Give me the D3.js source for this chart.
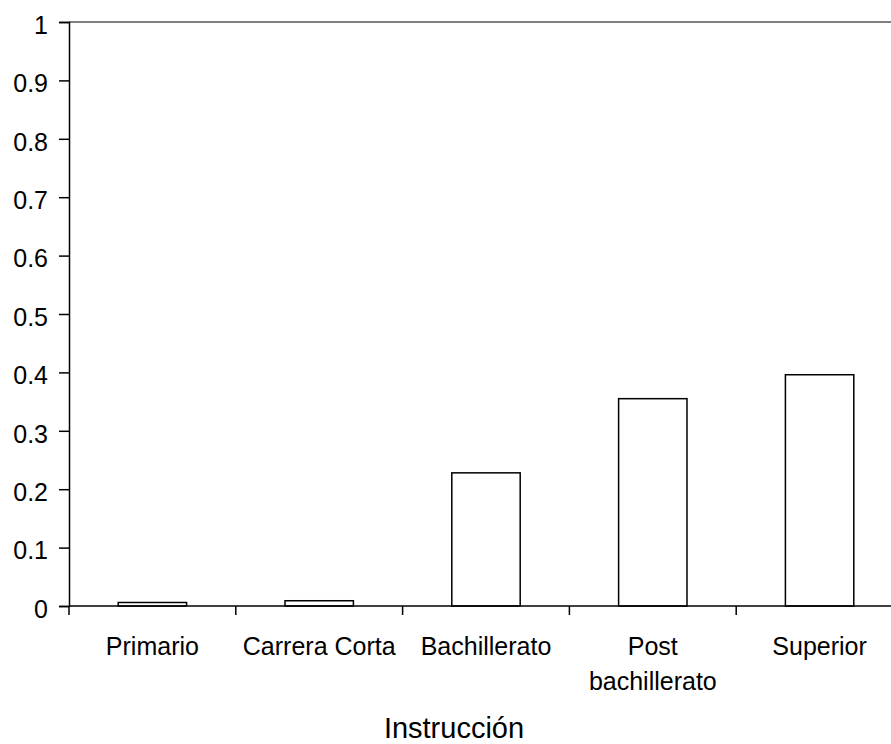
<!DOCTYPE html>
<html>
<head>
<meta charset="utf-8">
<script src="https://cdn.jsdelivr.net/npm/d3@7"></script>
<style>
  body { margin: 0; background: #fff; }
  svg { display: block; }
  svg text { font-family: "Liberation Sans", Arial, sans-serif; }
</style>
</head>
<body>
<div id="chart"></div>
<script>
// Categories and values
var categories = ["Primario", "Carrera Corta", "Bachillerato", "Post bachillerato", "Superior"];
var values = [0.006, 0.009, 0.228, 0.355, 0.396];
var yTicks = [0, 0.1, 0.2, 0.3, 0.4, 0.5, 0.6, 0.7, 0.8, 0.9, 1];
// label lines under each bar
var labelLines = [["Primario"], ["Carrera Corta"], ["Bachillerato"], ["Post", "bachillerato"], ["Superior"]];

var width = 891;
var height = 744;
var marginLeft = 69;
var marginTop = 22;
var plotWidth = 834;   // runs past the right edge, as in the reference
var plotHeight = 584;

var svg = d3.select("#chart").append("svg")
  .attr("width", width)
  .attr("height", height);

var chart = svg.append("g")
  .attr("transform", "translate(" + marginLeft + "," + marginTop + ")");

// Scales
var xScale = d3.scaleBand()
  .domain(categories)
  .range([0, plotWidth])
  .paddingInner(0.59)
  .paddingOuter(0.295);

var yScale = d3.scaleLinear()
  .domain([0, 1])
  .range([plotHeight, 0]);

// Gray top line of the plot area
chart.append("line")
  .attr("x1", 0)
  .attr("x2", plotWidth)
  .attr("y1", yScale(1))
  .attr("y2", yScale(1))
  .attr("stroke", "#808080")
  .attr("stroke-width", 2);

// Bars
chart.selectAll("rect.bar")
  .data(values)
  .enter().append("rect")
  .attr("class", "bar")
  .attr("x", function(d, i) { return xScale(categories[i]); })
  .attr("y", function(d) { return yScale(d); })
  .attr("width", xScale.bandwidth())
  .attr("height", function(d) { return plotHeight - yScale(d); })
  .attr("fill", "#fff")
  .attr("stroke", "#000")
  .attr("stroke-width", 1.5);

// Y axis
var yAxis = chart.append("g")
  .call(d3.axisLeft(yScale).tickValues(yTicks).tickSize(10).tickPadding(11)
    .tickFormat(function(d) { return d3.format("")(d); }));
yAxis.select(".domain").attr("stroke-width", 1.5);
yAxis.selectAll(".tick line").attr("stroke-width", 1.5);
yAxis.selectAll("text")
  .attr("font-size", 25)
  .attr("dy", "0.45em")
  .attr("fill", "#000");

// X axis: ticks between categories
var xAxisG = chart.append("g")
  .attr("transform", "translate(0," + plotHeight + ")");
xAxisG.append("line")
  .attr("x1", 0)
  .attr("x2", plotWidth)
  .attr("stroke", "#000")
  .attr("stroke-width", 1.5);
var step = xScale.step();
var bounds = d3.range(categories.length + 1).map(function(i) { return i * step; });
xAxisG.selectAll("line.xt")
  .data(bounds)
  .enter().append("line")
  .attr("class", "xt")
  .attr("x1", function(d) { return d; })
  .attr("x2", function(d) { return d; })
  .attr("y1", 0)
  .attr("y2", 9)
  .attr("stroke", "#000")
  .attr("stroke-width", 1.5);

// Category labels
var labels = xAxisG.selectAll("text.cat")
  .data(labelLines)
  .enter().append("text")
  .attr("class", "cat")
  .attr("text-anchor", "middle")
  .attr("font-size", 25)
  .attr("fill", "#000")
  .attr("transform", function(d, i) {
    return "translate(" + (xScale(categories[i]) + xScale.bandwidth() / 2) + ",49)";
  });
labels.selectAll("tspan")
  .data(function(d) { return d; })
  .enter().append("tspan")
  .attr("x", 0)
  .attr("dy", function(d, i) { return i === 0 ? 0 : 35; })
  .text(function(d) { return d; });

// Axis title
svg.append("text")
  .attr("x", 454)
  .attr("y", 738)
  .attr("text-anchor", "middle")
  .attr("font-size", 29)
  .attr("fill", "#000")
  .text("Instrucción");
</script>
</body>
</html>
